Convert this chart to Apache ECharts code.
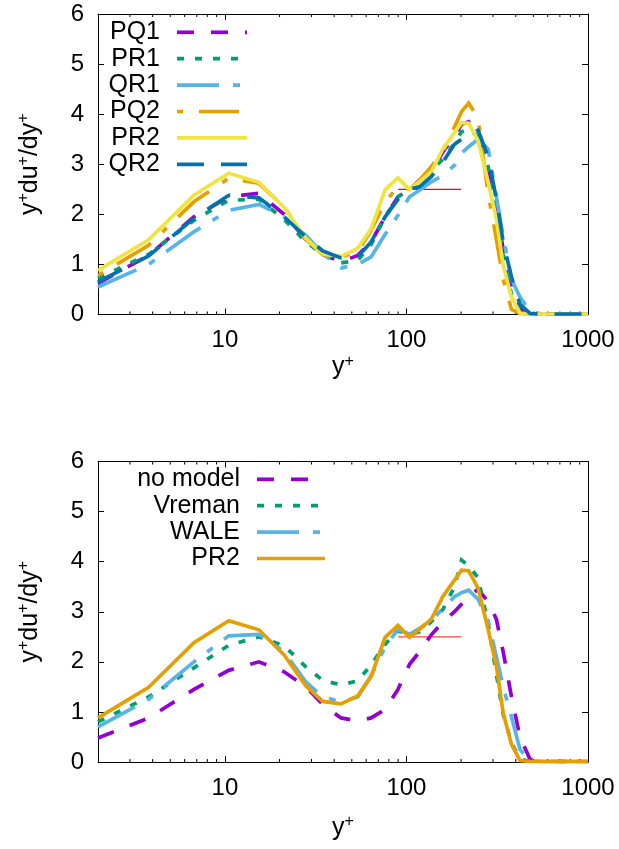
<!DOCTYPE html>
<html><head><meta charset="utf-8">
<script src="https://cdn.jsdelivr.net/npm/echarts@6/dist/echarts.min.js"></script>
<style>html,body{margin:0;padding:0;background:#fff}#c{width:619px;height:849px}</style>
</head><body><div id="c"></div>
<script>
// ---- data ----
const yPlus = [2, 3.8, 6.75, 10.5, 15.4, 21.2, 27.9, 34.6, 43.6, 53.9, 63.9, 76.3, 89.8, 104, 118, 137, 159, 184, 201, 220, 248, 282, 313, 341, 379, 422, 480, 560, 650, 760, 880, 1000];

// top panel
const pq1 = [0.62,1.18,1.95,2.35,2.42,2.0,1.5,1.2,1.05,1.18,1.45,1.95,2.35,2.5,2.68,2.85,3.25,3.55,3.8,3.85,3.55,2.9,2.1,1.3,0.55,0.1,0.01,0.01,0.01,0.01,0.01,0.01];
const pr1 = [0.72,1.2,1.88,2.28,2.3,1.9,1.45,1.2,1.03,1.08,1.4,1.95,2.35,2.5,2.62,2.88,3.1,3.42,3.65,3.7,3.55,2.95,2.05,1.2,0.4,0.05,0.01,0.01,0.01,0.01,0.01,0.01];
const qr1 = [0.55,1.0,1.65,2.08,2.2,1.95,1.58,1.22,0.93,1.0,1.15,1.6,1.98,2.35,2.48,2.65,2.78,2.98,3.22,3.35,3.5,3.3,2.35,1.55,0.7,0.35,0.05,0.01,0.01,0.01,0.01,0.01];
const pq2 = [0.78,1.38,2.25,2.72,2.62,2.15,1.5,1.2,1.15,1.25,1.68,2.25,2.55,2.5,2.68,2.95,3.25,3.75,4.05,4.22,3.92,2.4,1.5,0.7,0.1,0.02,0.01,0.01,0.01,0.01,0.01,0.01];
const pr2 = [0.88,1.49,2.38,2.82,2.64,2.14,1.52,1.21,1.16,1.32,1.71,2.49,2.73,2.49,2.65,2.85,3.31,3.63,3.83,3.82,3.47,2.64,1.91,0.98,0.35,0.03,0.01,0.01,0.01,0.01,0.01,0.01];
const qr2 = [0.65,1.17,1.92,2.38,2.33,1.95,1.55,1.27,1.13,1.15,1.45,1.95,2.3,2.5,2.55,2.75,3.05,3.4,3.5,3.58,3.68,3.15,2.3,1.45,0.75,0.2,0.02,0.01,0.01,0.01,0.01,0.01];

// bottom panel
const noModel = [0.48,0.88,1.45,1.83,2.0,1.8,1.5,1.15,0.88,0.82,0.88,1.05,1.45,1.95,2.2,2.54,2.8,3.0,3.15,3.3,3.45,3.2,2.85,2.2,1.3,0.5,0.05,0.01,0.01,0.01,0.01,0.01];
const vreman = [0.8,1.3,1.88,2.33,2.5,2.32,1.9,1.63,1.54,1.62,1.94,2.35,2.62,2.55,2.6,2.8,3.05,3.5,4.03,3.92,3.68,2.75,1.75,0.95,0.38,0.06,0.01,0.01,0.01,0.01,0.01,0.01];
const wale = [0.7,1.25,2.0,2.52,2.55,2.2,1.6,1.3,1.2,1.3,1.72,2.3,2.65,2.55,2.67,2.82,3.07,3.3,3.38,3.43,3.25,2.82,2.1,1.5,0.9,0.25,0.02,0.01,0.01,0.01,0.01,0.01];
const pr2Bottom = pr2;

const refLine = [[90, 2.5], [200, 2.5]];
const xTickLabels = ['10', '100', '1000'];
const minorTicks = [3,4,5,6,7,8,9,20,30,40,50,60,70,80,90,200,300,400,500,600,700,800,900];
const yMin = 0, yMax = 6, yStep = 1;
const xMin = 2, xMax = 1000;

// ---- styles ----
const FONT = '"Liberation Sans", Arial, sans-serif';
const FS = 24;      // tick labels
const FS_T = 25;    // titles / legend
const LW = 3.7;
const C = {purple:'#9400d3', green:'#009e73', sky:'#56b4e9', orange:'#e69f00', yellow:'#f0e442', blue:'#0072b2'};
const D = {dash:[17,17], dot:[7,11], dashDot:[42,14,7,14], dotDash:[6,16,40,16], longDash:[27,17], solid:'solid'};

const topDefs = [
  {name:'PQ1', data:pq1, color:C.purple, dash:D.dash},
  {name:'PR1', data:pr1, color:C.green, dash:D.dot},
  {name:'QR1', data:qr1, color:C.sky, dash:D.dashDot},
  {name:'PQ2', data:pq2, color:C.orange, dash:D.dotDash},
  {name:'PR2', data:pr2, color:C.yellow, dash:D.solid},
  {name:'QR2', data:qr2, color:C.blue, dash:D.longDash}
];
const botDefs = [
  {name:'no model', data:noModel, color:C.purple, dash:D.dash},
  {name:'Vreman', data:vreman, color:C.green, dash:D.dot},
  {name:'WALE', data:wale, color:C.sky, dash:D.dashDot},
  {name:'PR2', data:pr2Bottom, color:C.orange, dash:D.solid}
];

const grids = [
  {left:98, top:14, width:490, height:300.5},
  {left:98, top:461.5, height:300.5, width:490}
];

const supRich = {s:{fontSize:16, verticalAlign:'top', fontFamily:FONT, color:'#000', lineHeight:16}};

function xAxes(gi, nameGap) {
  return [
    {type:'log', logBase:10, gridIndex:gi, min:xMin, max:xMax, position:'bottom',
     axisLine:{show:true, onZero:false, lineStyle:{color:'#000', width:1}},
     axisTick:{show:true, inside:true, length:6, lineStyle:{color:'#000'}},
     axisLabel:{show:true, fontSize:FS, fontFamily:FONT, color:'#000', margin:14,
       formatter: v => { const r = String(Math.round(v)); return xTickLabels.includes(r) && Math.abs(v - Math.round(v)) < 1e-6 ? r : ''; }},
     splitLine:{show:false},
     name:'y{s|+}', nameLocation:'middle', nameGap:nameGap,
     nameTextStyle:{fontSize:FS_T, fontFamily:FONT, color:'#000', lineHeight:28, rich:supRich}},
    {type:'log', logBase:10, gridIndex:gi, min:xMin, max:xMax, position:'top',
     axisLine:{show:true, onZero:false, lineStyle:{color:'#000', width:1}},
     axisTick:{show:true, inside:true, length:6, lineStyle:{color:'#000'}},
     axisLabel:{show:false}, splitLine:{show:false}}
  ];
}
function yAxes(gi) {
  return [
    {type:'value', gridIndex:gi, min:yMin, max:yMax, interval:yStep, position:'left',
     axisLine:{show:true, onZero:false, lineStyle:{color:'#000', width:1}},
     axisTick:{show:true, inside:true, length:6, lineStyle:{color:'#000'}},
     axisLabel:{fontSize:FS, fontFamily:FONT, color:'#000', margin:14},
     splitLine:{show:false},
     name:'y{s|+}du{s|+}/dy{s|+}', nameLocation:'middle', nameGap:54, nameRotate:90,
     nameTextStyle:{fontSize:FS_T, fontFamily:FONT, color:'#000', lineHeight:28, rich:supRich}},
    {type:'value', gridIndex:gi, min:yMin, max:yMax, interval:yStep, position:'right',
     axisLine:{show:true, onZero:false, lineStyle:{color:'#000', width:1}},
     axisTick:{show:true, inside:true, length:6, lineStyle:{color:'#000'}},
     axisLabel:{show:false}, splitLine:{show:false}}
  ];
}

function lineSeries(defs, xi, yi) {
  return defs.map(d => ({
    type:'line', name:d.name, xAxisIndex:xi, yAxisIndex:yi,
    data: yPlus.map((x, i) => [x, d.data[i]]),
    symbol:'none', showSymbol:false, animation:false, silent:true, clip:true,
    lineStyle:{color:d.color, width:LW, type:d.dash, cap:'butt', join:'miter'},
    itemStyle:{color:d.color}
  }));
}
function refSeries(xi, yi, color) {
  return {type:'line', xAxisIndex:xi, yAxisIndex:yi, data:refLine, symbol:'none',
    animation:false, silent:true, lineStyle:{color:color, width:1.3}, z:1};
}
function minorTickSeries(xi, yi) {
  return {type:'custom', xAxisIndex:xi, yAxisIndex:yi, silent:true, animation:false, clip:false,
    data: minorTicks.map(v => [v, yMin]),
    renderItem: (params, api) => {
      const v = api.value(0);
      const b = api.coord([v, yMin]);
      const t = api.coord([v, yMax]);
      return {type:'group', children:[
        {type:'line', shape:{x1:b[0], y1:b[1], x2:b[0], y2:b[1]-3}, style:{stroke:'#000', lineWidth:1}},
        {type:'line', shape:{x1:t[0], y1:t[1], x2:t[0], y2:t[1]+3}, style:{stroke:'#000', lineWidth:1}}
      ]};
    }};
}

function legendGraphics(defs, textRight, lineX1, lineX2, y0, dy) {
  const out = [];
  defs.forEach((d, i) => {
    const y = y0 + i * dy;
    out.push({type:'text', x:textRight, y:y, silent:true,
      style:{text:d.name, fill:'#000', font:`${FS_T}px ${FONT}`, textAlign:'right', textVerticalAlign:'middle'}});
    out.push({type:'line', silent:true, shape:{x1:lineX1, y1:y, x2:lineX2, y2:y},
      style:{stroke:d.color, lineWidth:LW, lineDash: d.dash === 'solid' ? null : d.dash, lineCap:'butt'}});
  });
  return out;
}

const chart = echarts.init(document.getElementById('c'), null, {renderer:'canvas'});
chart.setOption({
  animation:false,
  backgroundColor:'#fff',
  grid: grids,
  xAxis: [...xAxes(0, 28), ...xAxes(1, 52)],
  yAxis: [...yAxes(0), ...yAxes(1)],
  series: [
    minorTickSeries(0, 0),
    minorTickSeries(2, 2),
    refSeries(0, 0, '#ff0000'),
    refSeries(2, 2, '#ff4040'),
    ...lineSeries(topDefs, 0, 0),
    ...lineSeries(botDefs, 2, 2)
  ],
  graphic: [
    ...legendGraphics(topDefs, 160, 177, 247, 32.3, 26.4),
    ...legendGraphics(botDefs, 240, 257, 325, 479.3, 26.4)
  ]
});
</script></body></html>
